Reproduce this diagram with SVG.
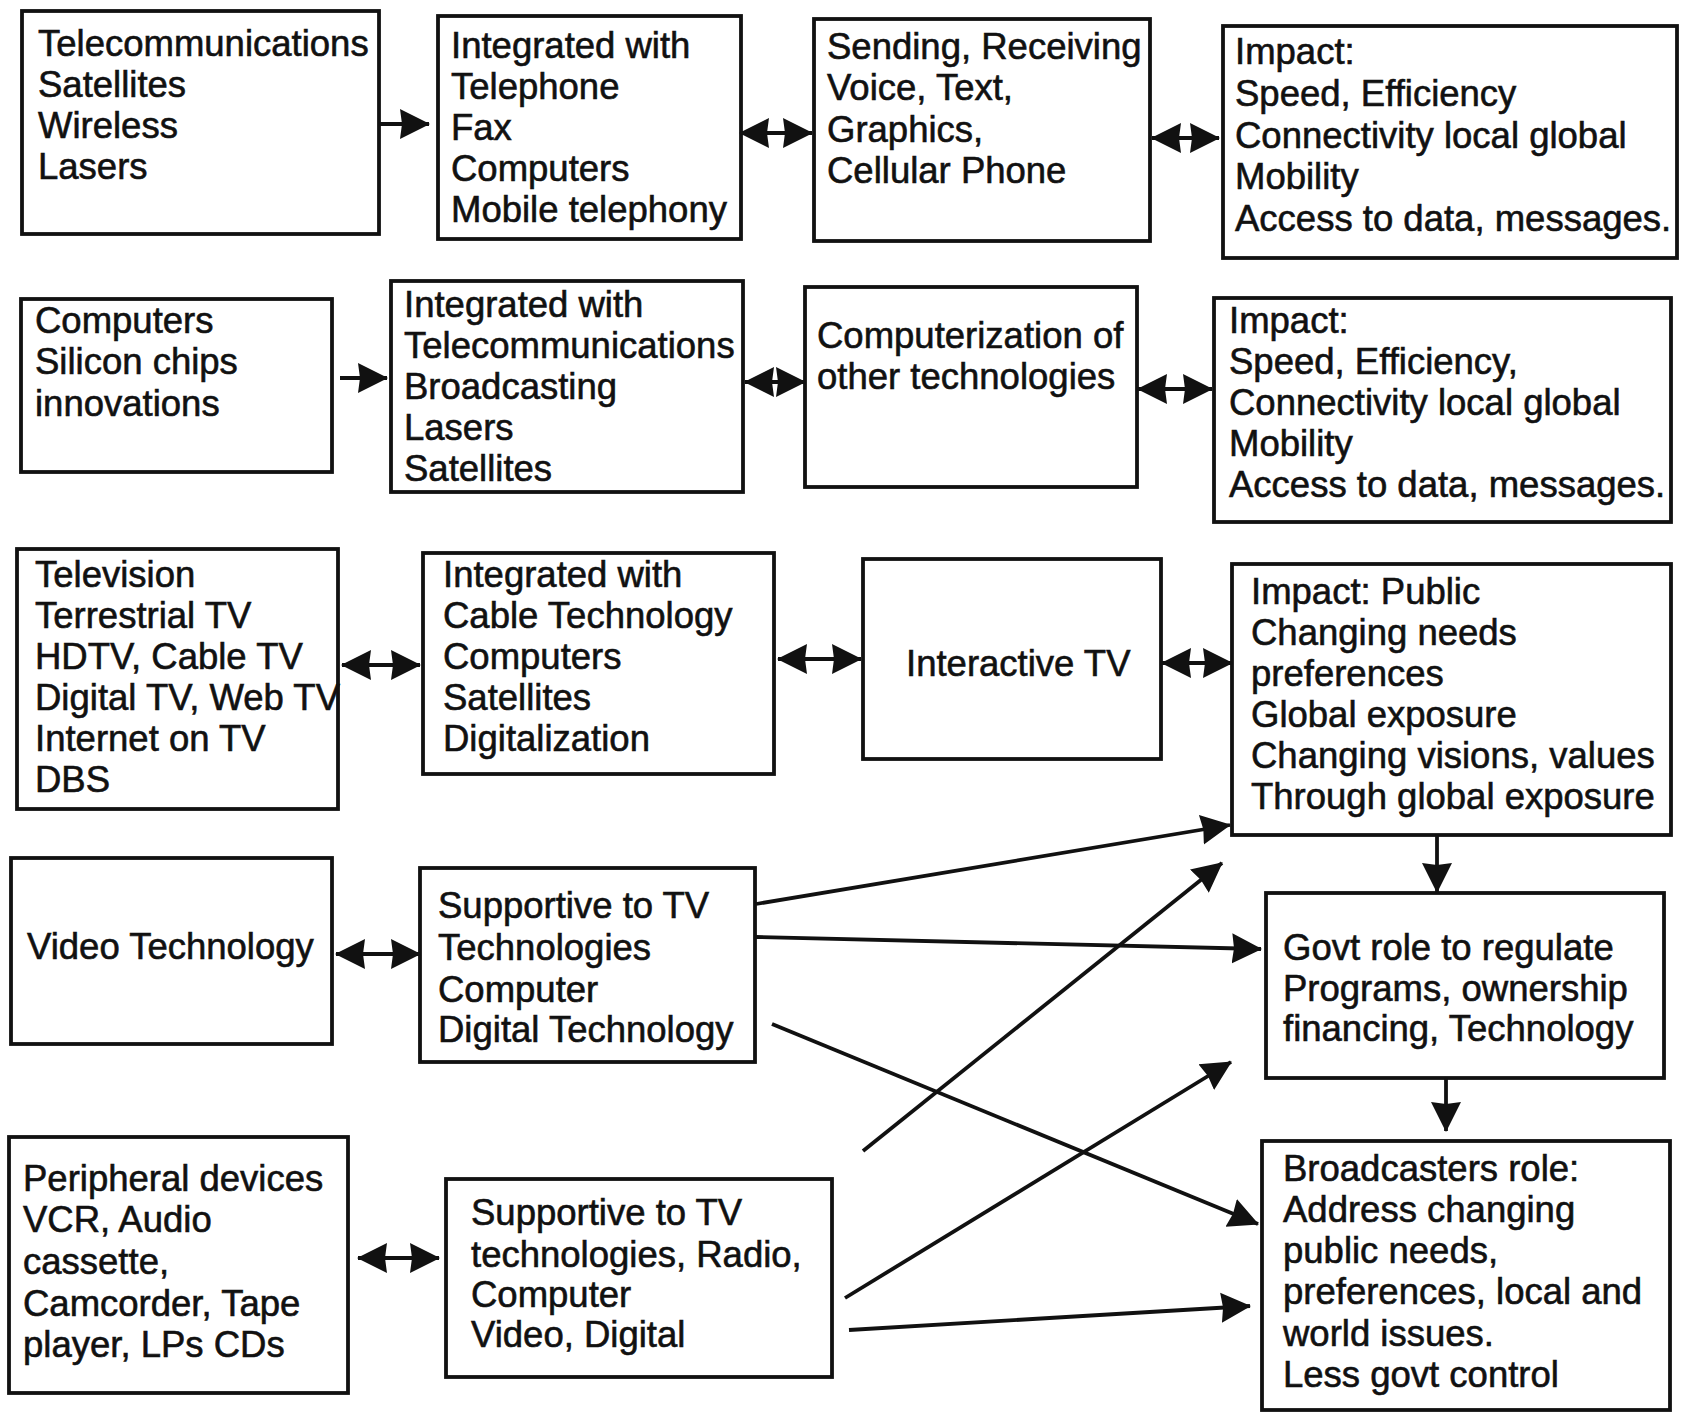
<svg xmlns="http://www.w3.org/2000/svg" width="1686" height="1415" viewBox="0 0 1686 1415">
  <defs>
    <style>
      .box { fill: #ffffff; stroke: #111111; stroke-width: 3.8; }
      .lbl { font-family: "Liberation Sans", Arial, Helvetica, sans-serif; font-size: 36.5px; fill: #111111; stroke: #111111; stroke-width: 0.6; }
      .conn { fill: none; stroke: #111111; stroke-width: 3.8; }
    </style>
    <marker id="head" viewBox="0 0 30 32" refX="29" refY="16" markerWidth="30" markerHeight="32" markerUnits="userSpaceOnUse" orient="auto-start-reverse">
      <path d="M0,1 L30,16 L0,31 L2,16 Z" fill="#111111"/>
    </marker>
  </defs>

  <rect width="1686" height="1415" fill="#ffffff"/>

  <!-- Row 1: telecommunications -->
  <g id="telecom">
    <rect class="box" x="22" y="11" width="357" height="223"/>
    <text class="lbl"><tspan x="38" y="56">Telecommunications</tspan><tspan x="38" y="97">Satellites</tspan><tspan x="38" y="138">Wireless</tspan><tspan x="38" y="179">Lasers</tspan></text>
  </g>
  <g id="telecom-integration">
    <rect class="box" x="438" y="16" width="303" height="223"/>
    <text class="lbl"><tspan x="451" y="58">Integrated with</tspan><tspan x="451" y="99">Telephone</tspan><tspan x="451" y="140">Fax</tspan><tspan x="451" y="181">Computers</tspan><tspan x="451" y="222">Mobile telephony</tspan></text>
  </g>
  <g id="telecom-uses">
    <rect class="box" x="814" y="19" width="336" height="222"/>
    <text class="lbl"><tspan x="827" y="59">Sending, Receiving</tspan><tspan x="827" y="100">Voice, Text,</tspan><tspan x="827" y="142">Graphics,</tspan><tspan x="827" y="183">Cellular Phone</tspan></text>
  </g>
  <g id="telecom-impact">
    <rect class="box" x="1223" y="26" width="454" height="232"/>
    <text class="lbl"><tspan x="1235" y="64">Impact:</tspan><tspan x="1235" y="106">Speed, Efficiency</tspan><tspan x="1235" y="148">Connectivity local global</tspan><tspan x="1235" y="189">Mobility</tspan><tspan x="1235" y="231">Access to data, messages.</tspan></text>
  </g>

  <!-- Row 2: computers -->
  <g id="computers">
    <rect class="box" x="21" y="299" width="311" height="173"/>
    <text class="lbl"><tspan x="35" y="333">Computers</tspan><tspan x="35" y="374">Silicon chips</tspan><tspan x="35" y="416">innovations</tspan></text>
  </g>
  <g id="computers-integration">
    <rect class="box" x="391" y="281" width="352" height="211"/>
    <text class="lbl"><tspan x="404" y="317">Integrated with</tspan><tspan x="404" y="358">Telecommunications</tspan><tspan x="404" y="399">Broadcasting</tspan><tspan x="404" y="440">Lasers</tspan><tspan x="404" y="481">Satellites</tspan></text>
  </g>
  <g id="computerization">
    <rect class="box" x="805" y="287" width="332" height="200"/>
    <text class="lbl"><tspan x="817" y="348">Computerization of</tspan><tspan x="817" y="389">other technologies</tspan></text>
  </g>
  <g id="computers-impact">
    <rect class="box" x="1214" y="298" width="457" height="224"/>
    <text class="lbl"><tspan x="1229" y="333">Impact:</tspan><tspan x="1229" y="374">Speed, Efficiency,</tspan><tspan x="1229" y="415">Connectivity local global</tspan><tspan x="1229" y="456">Mobility</tspan><tspan x="1229" y="497">Access to data, messages.</tspan></text>
  </g>

  <!-- Row 3: television -->
  <g id="television">
    <rect class="box" x="17" y="549" width="321" height="260"/>
    <text class="lbl"><tspan x="35" y="587">Television</tspan><tspan x="35" y="628">Terrestrial TV</tspan><tspan x="35" y="669">HDTV, Cable TV</tspan><tspan x="35" y="710">Digital TV, Web TV</tspan><tspan x="35" y="751">Internet on TV</tspan><tspan x="35" y="792">DBS</tspan></text>
  </g>
  <g id="tv-integration">
    <rect class="box" x="423" y="553" width="351" height="221"/>
    <text class="lbl"><tspan x="443" y="587">Integrated with</tspan><tspan x="443" y="628">Cable Technology</tspan><tspan x="443" y="669">Computers</tspan><tspan x="443" y="710">Satellites</tspan><tspan x="443" y="751">Digitalization</tspan></text>
  </g>
  <g id="interactive-tv">
    <rect class="box" x="863" y="559" width="298" height="200"/>
    <text class="lbl"><tspan x="906" y="676">Interactive TV</tspan></text>
  </g>
  <g id="public-impact">
    <rect class="box" x="1232" y="564" width="439" height="271"/>
    <text class="lbl"><tspan x="1251" y="604">Impact: Public</tspan><tspan x="1251" y="645">Changing needs</tspan><tspan x="1251" y="686">preferences</tspan><tspan x="1251" y="727">Global exposure</tspan><tspan x="1251" y="768">Changing visions, values</tspan><tspan x="1251" y="809">Through global exposure</tspan></text>
  </g>

  <!-- Row 4: video -->
  <g id="video">
    <rect class="box" x="11" y="858" width="321" height="186"/>
    <text class="lbl"><tspan x="27" y="959">Video Technology</tspan></text>
  </g>
  <g id="video-support">
    <rect class="box" x="420" y="868" width="335" height="194"/>
    <text class="lbl"><tspan x="438" y="918">Supportive to TV</tspan><tspan x="438" y="960">Technologies</tspan><tspan x="438" y="1002">Computer</tspan><tspan x="438" y="1042">Digital Technology</tspan></text>
  </g>
  <g id="govt-role">
    <rect class="box" x="1266" y="893" width="398" height="185"/>
    <text class="lbl"><tspan x="1283" y="960">Govt role to regulate</tspan><tspan x="1283" y="1001">Programs, ownership</tspan><tspan x="1283" y="1041">financing, Technology</tspan></text>
  </g>

  <!-- Row 5: peripherals -->
  <g id="peripherals">
    <rect class="box" x="9" y="1137" width="339" height="256"/>
    <text class="lbl"><tspan x="23" y="1191">Peripheral devices</tspan><tspan x="23" y="1232">VCR, Audio</tspan><tspan x="23" y="1274">cassette,</tspan><tspan x="23" y="1316">Camcorder, Tape</tspan><tspan x="23" y="1357">player, LPs CDs</tspan></text>
  </g>
  <g id="peripheral-support">
    <rect class="box" x="446" y="1179" width="386" height="198"/>
    <text class="lbl"><tspan x="471" y="1225">Supportive to TV</tspan><tspan x="471" y="1267">technologies, Radio,</tspan><tspan x="471" y="1307">Computer</tspan><tspan x="471" y="1347">Video, Digital</tspan></text>
  </g>
  <g id="broadcasters-role">
    <rect class="box" x="1262" y="1141" width="408" height="269"/>
    <text class="lbl"><tspan x="1283" y="1181">Broadcasters role:</tspan><tspan x="1283" y="1222">Address changing</tspan><tspan x="1283" y="1263">public needs,</tspan><tspan x="1283" y="1304">preferences, local and</tspan><tspan x="1283" y="1346">world issues.</tspan><tspan x="1283" y="1387">Less govt control</tspan></text>
  </g>

  <!-- Connectors -->
  <g id="connectors">
    <!-- single-headed -->
    <path class="conn" d="M380,124 L429,124" marker-end="url(#head)"/>
    <path class="conn" d="M340,378 L387,378" marker-end="url(#head)"/>
    <path class="conn" d="M1437,835 L1437,892" marker-end="url(#head)"/>
    <path class="conn" d="M1446,1078 L1446,1131" marker-end="url(#head)"/>
    <!-- double-headed -->
    <path class="conn" d="M740,133 L812,133" marker-start="url(#head)" marker-end="url(#head)"/>
    <path class="conn" d="M1152,138 L1219,138" marker-start="url(#head)" marker-end="url(#head)"/>
    <path class="conn" d="M745,382 L805,382" marker-start="url(#head)" marker-end="url(#head)"/>
    <path class="conn" d="M1138,389 L1212,389" marker-start="url(#head)" marker-end="url(#head)"/>
    <path class="conn" d="M342,665 L420,665" marker-start="url(#head)" marker-end="url(#head)"/>
    <path class="conn" d="M778,659 L861,659" marker-start="url(#head)" marker-end="url(#head)"/>
    <path class="conn" d="M1162,663 L1232,663" marker-start="url(#head)" marker-end="url(#head)"/>
    <path class="conn" d="M336,954 L420,954" marker-start="url(#head)" marker-end="url(#head)"/>
    <path class="conn" d="M358,1258 L439,1258" marker-start="url(#head)" marker-end="url(#head)"/>
    <!-- crossing links to the impact / role boxes -->
    <path class="conn" d="M756,904 L1230,825" marker-end="url(#head)"/>
    <path class="conn" d="M756,937 L1261,949" marker-end="url(#head)"/>
    <path class="conn" d="M772,1024 L1258,1224" marker-end="url(#head)"/>
    <path class="conn" d="M863,1151 L1222,863" marker-end="url(#head)"/>
    <path class="conn" d="M845,1298 L1231,1062" marker-end="url(#head)"/>
    <path class="conn" d="M849,1330 L1250,1306" marker-end="url(#head)"/>
  </g>
</svg>
